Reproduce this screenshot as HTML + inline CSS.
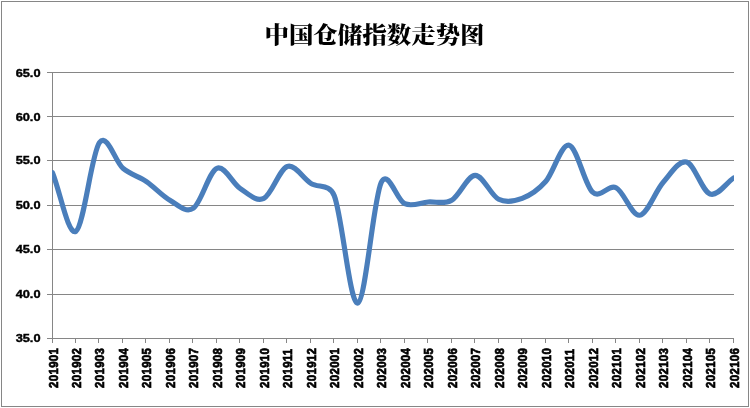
<!DOCTYPE html>
<html lang="zh"><head><meta charset="utf-8"><title>中国仓储指数走势图</title>
<style>
html,body{margin:0;padding:0;background:#fff;}
body{width:750px;height:408px;overflow:hidden;}
svg{display:block;will-change:transform;}
.t{font-family:"Noto Serif CJK SC","Liberation Serif",serif;font-weight:900;font-size:24px;fill:#000;letter-spacing:0px;}
.y{font-family:"Liberation Sans",sans-serif;font-weight:bold;font-size:11px;fill:#000;stroke:#000;stroke-width:0.4px;}
.x{font-family:"Liberation Sans",sans-serif;font-weight:bold;font-size:12px;fill:#000;stroke:#000;stroke-width:0.65px;letter-spacing:0.32px;}
</style></head><body>
<svg width="750" height="408" viewBox="0 0 750 408">
<defs><clipPath id="plot"><rect x="52" y="60" width="682" height="290"/></clipPath></defs>
<rect x="0" y="0" width="750" height="408" fill="#fff"/>
<rect x="1.5" y="1.5" width="747" height="405" fill="none" stroke="#868686" stroke-width="1"/>
<text class="t" transform="translate(374.5,42.8) scale(1.02,0.93)" text-anchor="middle">中国仓储指数走势图</text>
<g stroke="#868686" stroke-width="1" shape-rendering="crispEdges">
<line x1="47" y1="72.5" x2="734" y2="72.5"/>
<line x1="47" y1="116.5" x2="734" y2="116.5"/>
<line x1="47" y1="160.5" x2="734" y2="160.5"/>
<line x1="47" y1="205.5" x2="734" y2="205.5"/>
<line x1="47" y1="249.5" x2="734" y2="249.5"/>
<line x1="47" y1="294.5" x2="734" y2="294.5"/>
<line x1="47" y1="338.5" x2="734" y2="338.5"/>
<line x1="52.5" y1="72" x2="52.5" y2="343"/>
<line x1="52.5" y1="338" x2="52.5" y2="343"/>
<line x1="75.5" y1="338" x2="75.5" y2="343"/>
<line x1="98.5" y1="338" x2="98.5" y2="343"/>
<line x1="122.5" y1="338" x2="122.5" y2="343"/>
<line x1="145.5" y1="338" x2="145.5" y2="343"/>
<line x1="169.5" y1="338" x2="169.5" y2="343"/>
<line x1="192.5" y1="338" x2="192.5" y2="343"/>
<line x1="216.5" y1="338" x2="216.5" y2="343"/>
<line x1="239.5" y1="338" x2="239.5" y2="343"/>
<line x1="263.5" y1="338" x2="263.5" y2="343"/>
<line x1="286.5" y1="338" x2="286.5" y2="343"/>
<line x1="310.5" y1="338" x2="310.5" y2="343"/>
<line x1="333.5" y1="338" x2="333.5" y2="343"/>
<line x1="357.5" y1="338" x2="357.5" y2="343"/>
<line x1="380.5" y1="338" x2="380.5" y2="343"/>
<line x1="404.5" y1="338" x2="404.5" y2="343"/>
<line x1="427.5" y1="338" x2="427.5" y2="343"/>
<line x1="451.5" y1="338" x2="451.5" y2="343"/>
<line x1="474.5" y1="338" x2="474.5" y2="343"/>
<line x1="498.5" y1="338" x2="498.5" y2="343"/>
<line x1="521.5" y1="338" x2="521.5" y2="343"/>
<line x1="545.5" y1="338" x2="545.5" y2="343"/>
<line x1="568.5" y1="338" x2="568.5" y2="343"/>
<line x1="592.5" y1="338" x2="592.5" y2="343"/>
<line x1="615.5" y1="338" x2="615.5" y2="343"/>
<line x1="639.5" y1="338" x2="639.5" y2="343"/>
<line x1="662.5" y1="338" x2="662.5" y2="343"/>
<line x1="686.5" y1="338" x2="686.5" y2="343"/>
<line x1="709.5" y1="338" x2="709.5" y2="343"/>
<line x1="733.5" y1="338" x2="733.5" y2="343"/>
</g>
<text class="y" transform="translate(40.5,76.5) scale(1.16,1)" text-anchor="end">65.0</text>
<text class="y" transform="translate(40.5,120.5) scale(1.16,1)" text-anchor="end">60.0</text>
<text class="y" transform="translate(40.5,164.4) scale(1.16,1)" text-anchor="end">55.0</text>
<text class="y" transform="translate(40.5,209.4) scale(1.16,1)" text-anchor="end">50.0</text>
<text class="y" transform="translate(40.5,253.4) scale(1.16,1)" text-anchor="end">45.0</text>
<text class="y" transform="translate(40.5,298.4) scale(1.16,1)" text-anchor="end">40.0</text>
<text class="y" transform="translate(40.5,342.4) scale(1.16,1)" text-anchor="end">35.0</text>
<text class="x" transform="translate(57.50,387.9) rotate(-90) scale(0.955,1.1)">201901</text>
<text class="x" transform="translate(80.98,387.9) rotate(-90) scale(0.955,1.1)">201902</text>
<text class="x" transform="translate(104.47,387.9) rotate(-90) scale(0.955,1.1)">201903</text>
<text class="x" transform="translate(127.95,387.9) rotate(-90) scale(0.955,1.1)">201904</text>
<text class="x" transform="translate(151.43,387.9) rotate(-90) scale(0.955,1.1)">201905</text>
<text class="x" transform="translate(174.91,387.9) rotate(-90) scale(0.955,1.1)">201906</text>
<text class="x" transform="translate(198.40,387.9) rotate(-90) scale(0.955,1.1)">201907</text>
<text class="x" transform="translate(221.88,387.9) rotate(-90) scale(0.955,1.1)">201908</text>
<text class="x" transform="translate(245.36,387.9) rotate(-90) scale(0.955,1.1)">201909</text>
<text class="x" transform="translate(268.84,387.9) rotate(-90) scale(0.955,1.1)">201910</text>
<text class="x" transform="translate(292.33,387.9) rotate(-90) scale(0.955,1.1)">201911</text>
<text class="x" transform="translate(315.81,387.9) rotate(-90) scale(0.955,1.1)">201912</text>
<text class="x" transform="translate(339.29,387.9) rotate(-90) scale(0.955,1.1)">202001</text>
<text class="x" transform="translate(362.78,387.9) rotate(-90) scale(0.955,1.1)">202002</text>
<text class="x" transform="translate(386.26,387.9) rotate(-90) scale(0.955,1.1)">202003</text>
<text class="x" transform="translate(409.74,387.9) rotate(-90) scale(0.955,1.1)">202004</text>
<text class="x" transform="translate(433.22,387.9) rotate(-90) scale(0.955,1.1)">202005</text>
<text class="x" transform="translate(456.71,387.9) rotate(-90) scale(0.955,1.1)">202006</text>
<text class="x" transform="translate(480.19,387.9) rotate(-90) scale(0.955,1.1)">202007</text>
<text class="x" transform="translate(503.67,387.9) rotate(-90) scale(0.955,1.1)">202008</text>
<text class="x" transform="translate(527.16,387.9) rotate(-90) scale(0.955,1.1)">202009</text>
<text class="x" transform="translate(550.64,387.9) rotate(-90) scale(0.955,1.1)">202010</text>
<text class="x" transform="translate(574.12,387.9) rotate(-90) scale(0.955,1.1)">202011</text>
<text class="x" transform="translate(597.60,387.9) rotate(-90) scale(0.955,1.1)">202012</text>
<text class="x" transform="translate(621.09,387.9) rotate(-90) scale(0.955,1.1)">202101</text>
<text class="x" transform="translate(644.57,387.9) rotate(-90) scale(0.955,1.1)">202102</text>
<text class="x" transform="translate(668.05,387.9) rotate(-90) scale(0.955,1.1)">202103</text>
<text class="x" transform="translate(691.53,387.9) rotate(-90) scale(0.955,1.1)">202104</text>
<text class="x" transform="translate(715.02,387.9) rotate(-90) scale(0.955,1.1)">202105</text>
<text class="x" transform="translate(738.50,387.9) rotate(-90) scale(0.955,1.1)">202106</text>
<path d="M52.50,172.69 C60.33,192.20 68.16,236.24 75.98,231.21 C83.81,226.19 91.64,153.04 99.47,142.55 C107.29,132.05 115.12,161.76 122.95,168.26 C130.78,174.76 138.60,176.24 146.43,181.56 C154.26,186.88 162.09,195.75 169.91,200.18 C177.74,204.61 185.57,213.48 193.40,208.16 C201.22,202.84 209.05,171.51 216.88,168.26 C224.71,165.01 232.53,183.63 240.36,188.65 C248.19,193.68 256.02,202.10 263.84,198.41 C271.67,194.71 279.50,169.00 287.33,166.49 C295.16,163.97 302.98,178.46 310.81,183.33 C318.64,188.21 329.44,183.38 334.29,195.75 C342.12,215.70 349.95,305.25 357.78,303.03 C365.60,300.82 373.43,199.00 381.26,182.45 C388.03,168.12 396.91,200.48 404.74,203.73 C412.57,206.98 420.40,202.54 428.22,201.95 C436.05,201.36 443.88,204.61 451.71,200.18 C459.53,195.75 467.36,175.50 475.19,175.35 C483.02,175.21 490.84,195.45 498.67,199.29 C506.50,203.14 514.33,201.36 522.16,198.41 C529.98,195.45 537.81,190.43 545.64,181.56 C553.47,172.69 561.29,143.43 569.12,145.21 C576.95,146.98 584.78,185.11 592.60,192.20 C600.43,199.29 608.26,183.92 616.09,187.77 C623.91,191.61 631.74,216.14 639.57,215.25 C647.40,214.37 655.22,191.31 663.05,182.45 C670.88,173.58 678.71,160.13 686.53,162.05 C694.36,163.97 702.19,191.31 710.02,193.97 C717.84,196.63 725.67,183.33 733.50,178.01" clip-path="url(#plot)" fill="none" stroke="#4A7EBB" stroke-width="5.15" stroke-linecap="round" stroke-linejoin="round"/>
</svg></body></html>
